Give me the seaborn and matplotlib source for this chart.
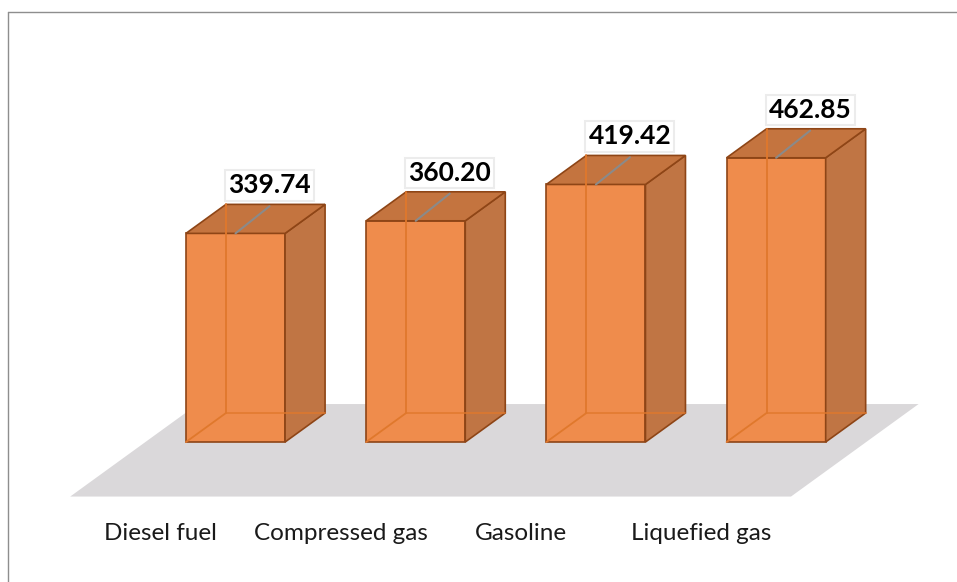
import numpy as np
import matplotlib
matplotlib.use("Agg")
import matplotlib.pyplot as plt
import seaborn as sns
from matplotlib.patches import Polygon
from matplotlib.lines import Line2D

fuels = ["Diesel fuel", "Compressed gas", "Gasoline", "Liquefied gas"]
values = [339.74, 360.20, 419.42, 462.85]
value_labels = ["339.74", "360.20", "419.42", "462.85"]

# colours
front_c = "#EF8C4C"
side_c = "#C07544"
top_c = "#C4743F"
edge_c = "#8E4516"
inner_c = "#E0782C"
floor_c = "#DAD8DA"

sns.set_style("white")
plt.rcParams["font.family"] = ["Lato", "DejaVu Sans"]

fig = plt.figure(figsize=(9.57, 5.82), dpi=100)
ax = fig.add_axes([60 / 957, 72 / 582, 870 / 957, 450 / 582])

bar_w = 0.55
sns.barplot(x=fuels, y=values, color=front_c, width=bar_w, saturation=1,
            edgecolor=edge_c, linewidth=1.2, ax=ax, zorder=3)

ax.set_xlim(-0.974, 3.854)
ax.set_ylim(-110.7, 622.1)

# depth vector (data units) for the fake 3D look
ddx = 40 / 180.2
ddy = 29 / 0.614

# floor
f_front, f_back = -1.88, 1.31
n = len(fuels)
floor = Polygon([(-0.5 + f_front * ddx, f_front * ddy),
                 (n - 0.5 + f_front * ddx, f_front * ddy),
                 (n - 0.5 + f_back * ddx, f_back * ddy),
                 (-0.5 + f_back * ddx, f_back * ddy)],
                closed=True, facecolor=floor_c, edgecolor="none", zorder=1)
ax.add_patch(floor)

for p, lab in zip(ax.patches[:n], value_labels):
    x0 = p.get_x()
    x1 = x0 + p.get_width()
    h = p.get_height()
    c = x0 + p.get_width() / 2
    # inner (hidden) edges seen through the translucent bar
    ax.add_line(Line2D([x0 + ddx, x0 + ddx], [ddy, h + ddy], color=inner_c, lw=1.3, zorder=3.5))
    ax.add_line(Line2D([x0 + ddx, x1 + ddx], [ddy, ddy], color=inner_c, lw=1.3, alpha=0.8, zorder=3.5))
    ax.add_line(Line2D([x0, x0 + ddx], [0, ddy], color=inner_c, lw=1.3, zorder=3.5))
    side = Polygon([(x1, 0), (x1 + ddx, ddy), (x1 + ddx, h + ddy), (x1, h)],
                   closed=True, facecolor=side_c, edgecolor=edge_c, lw=1.2, zorder=3)
    top = Polygon([(x0, h), (x1, h), (x1 + ddx, h + ddy), (x0 + ddx, h + ddy)],
                  closed=True, facecolor=top_c, edgecolor=edge_c, lw=1.2, zorder=3)
    ax.add_patch(side)
    ax.add_patch(top)
    # leader line and label
    ax.add_line(Line2D([c, c + 0.85 * ddx], [h, h + ddy - 3], color="#8a8a8a", lw=1.5, zorder=4))
    ax.text(c + 0.85 * ddx, h + ddy + 31, lab, ha="center", va="center",
            fontsize=19, fontweight="bold", color="black", zorder=5,
            bbox=dict(boxstyle="square,pad=0.12", facecolor="white", edgecolor="#ececec", lw=1.5))

ax.set_xticks(np.arange(n) + f_front * ddx)
ax.set_xticklabels(fuels, fontsize=17.5, color="#1a1a1a")
ax.tick_params(axis="x", length=0, pad=9)
ax.set_yticks([])
ax.set_xlabel("")
ax.set_ylabel("")
for s in ax.spines.values():
    s.set_visible(False)

# outer chart border (top and left visible)
fig.add_artist(Line2D([8 / 957, 1], [1 - 12 / 582, 1 - 12 / 582], transform=fig.transFigure, color="#8e8e8e", lw=1))
fig.add_artist(Line2D([8 / 957, 8 / 957], [0, 1 - 12 / 582], transform=fig.transFigure, color="#8e8e8e", lw=1))

fig.savefig("out.png", dpi=100)
